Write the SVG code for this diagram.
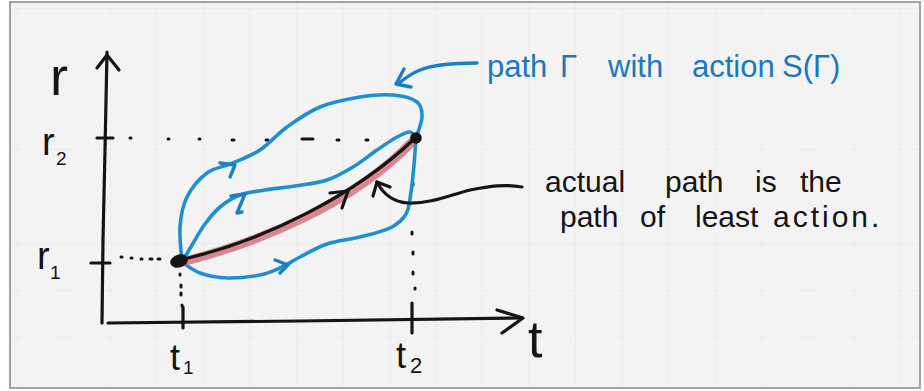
<svg xmlns="http://www.w3.org/2000/svg" width="924" height="391" viewBox="0 0 924 391">
  <defs>
    <pattern id="grid" x="17" y="8" width="46.5" height="47" patternUnits="userSpaceOnUse">
      <path d="M0,0 H46.5 M0,0 V47" fill="none" stroke="#e7e7e7" stroke-width="1"/>
    </pattern>
    <style>
      .ink { fill: none; stroke: #141414; stroke-width: 3.2; stroke-linecap: round; stroke-linejoin: round; }
      .blue { fill: none; stroke: #1e8fd0; stroke-width: 3.6; stroke-linecap: round; stroke-linejoin: round; }
      .bluehead { fill: none; stroke: #1a7fc4; stroke-width: 3.4; stroke-linecap: round; stroke-linejoin: round; }
      .dot { fill: none; stroke: #141414; stroke-width: 3; stroke-linecap: round; }
      .hand { font-family: "Liberation Sans", "DejaVu Sans", sans-serif; fill: #141414; }
      .bluetext { font-family: "Liberation Sans", "DejaVu Sans", sans-serif; fill: #1a78bd; }
    </style>
  </defs>

  <rect x="0" y="0" width="924" height="391" fill="#ffffff"/>
  <rect x="10" y="2" width="910" height="386" fill="#f3f3f3" stroke="#a3a3a3" stroke-width="2"/>
  <rect x="11" y="3" width="908" height="384" fill="url(#grid)"/>

  <!-- axes -->
  <g id="axes">
    <path class="ink" d="M107,52 L105,150 L103,240 L102,323"/>
    <polyline class="ink" points="97,68 107,55 119,70"/>
    <path class="ink" d="M108,323 L300,321 L522,318"/>
    <polyline class="ink" points="497,310 523,318 502,333"/>
    <line class="ink" x1="97" y1="138" x2="113" y2="138"/>
    <line class="ink" x1="91" y1="263" x2="110" y2="263"/>
    <line class="ink" x1="183" y1="307" x2="183" y2="328"/>
    <line class="ink" x1="412" y1="303" x2="412" y2="333"/>
  </g>

  <!-- guide dots -->
  <g id="guides" class="dot">
    <path d="M130,138 h1 M168,139 h1 M199,139 h1 M232,140 h2 M266,140 h2 M302,139 h11 M337,140 h2 M366,140 h2"/>
    <path d="M121,257 h1 M131,258 h1 M141,259 h1 M150,259 h2 M158,259 h2"/>
    <path d="M180,274 v1 M181,285 v2 M181,293 v2 M182,305 v1"/>
    <path d="M413,183 v2 M412,232 v2 M413,252 v2 M413,272 v2 M415,288 v1"/>
  </g>

  <!-- connectors / paths -->
  <g id="connectors">
    <!-- upper varied path -->
    <path class="blue" d="M182,262 C181.7,256.2 179.2,237.8 180,227 C180.8,216.2 182.5,206 187,197 C191.5,188 199.3,178.7 207,173 C214.7,167.3 224.2,166.8 233,163 C241.8,159.2 251,156 260,150 C269,144 277,134.2 287,127 C297,119.8 307.8,112 320,107 C332.2,102 347.8,99 360,97 C372.2,95 383.5,94.2 393,95 C402.5,95.8 412.2,98.3 417,102 C421.8,105.7 422.2,111 422,117 C421.8,123 417,134.5 416,138"/>
    <!-- lower varied path -->
    <path class="blue" d="M182,262 C185,263.8 192.5,270.3 200,273 C207.5,275.7 217,277.7 227,278 C237,278.3 250.8,276.8 260,275 C269.2,273.2 275.3,270 282,267 C288.7,264 292.5,260.8 300,257 C307.5,253.2 317,247.3 327,244 C337,240.7 349.5,239.7 360,237 C370.5,234.3 382.3,231.8 390,228 C397.7,224.2 402.5,220 406,214 C409.5,208 409.7,200.2 411,192 C412.3,183.8 413.2,174 414,165 C414.8,156 415.7,142.5 416,138"/>
    <!-- middle varied path -->
    <path class="blue" d="M182,262 C183.7,259.2 188.2,251.3 192,245 C195.8,238.7 200.3,230.3 205,224 C209.7,217.7 214.2,211.8 220,207 C225.8,202.2 232.5,197.8 240,195 C247.5,192.2 255.8,191.5 265,190 C274.2,188.5 284.7,187.7 295,186 C305.3,184.3 317.3,183.2 327,180 C336.7,176.8 344.7,172 353,167 C361.3,162 369.7,155 377,150 C384.3,145 391.5,140 397,137 C402.5,134 406.8,131.8 410,132 C413.2,132.2 415,137 416,138"/>
    <!-- blue arrowheads -->
    <polyline class="bluehead" points="220,163 235,165 230,177"/>
    <polyline class="bluehead" points="231,196 245,194 237,213 242,212"/>
    <polyline class="bluehead" points="275,260 288,265 280,273"/>

    <!-- actual path: red highlight and black ink -->
    <path d="M186,261 C262,241 352,204 412,142" fill="none" stroke="#d4606f" stroke-opacity="0.75" stroke-width="9" stroke-linecap="round"/>
    <path class="ink" d="M188,258 C265,240 355,195 413,140"/>
    <polyline class="ink" points="330,193 348,191 342,208"/>

    <!-- pointer from annotation -->
    <path class="ink" stroke-width="2.6" d="M522,187 C505,184 490,186 470,190 C450,195 430,204 408,203 C392,202 382,192 377,182"/>
    <polyline class="ink" stroke-width="2.6" points="373,196 377,182 390,187"/>

    <!-- blue callout -->
    <path class="bluehead" d="M477,63 C455,63 435,64 420,70 C410,74 404,79 398,84"/>
    <polyline class="bluehead" points="404,69 396,84 411,87"/>
  </g>

  <!-- endpoints -->
  <g id="start-point">
    <ellipse cx="179" cy="261" rx="9" ry="6.5" transform="rotate(-20 179 261)" fill="#141414"/>
  </g>
  <g id="end-point">
    <circle cx="416" cy="138" r="5.8" fill="#141414"/>
  </g>

  <!-- axis labels -->
  <g id="label-r">
    <text class="hand" x="50" y="95" font-size="54">r</text>
  </g>
  <g id="label-r2">
    <text class="hand" x="42" y="155" font-size="38">r</text>
    <text class="hand" x="56" y="165" font-size="19">2</text>
  </g>
  <g id="label-r1">
    <text class="hand" x="37" y="269" font-size="38">r</text>
    <text class="hand" x="50" y="279" font-size="19">1</text>
  </g>
  <g id="label-t1">
    <text class="hand" x="170" y="370" font-size="36">t</text>
    <text class="hand" x="183" y="374" font-size="19">1</text>
  </g>
  <g id="label-t2">
    <text class="hand" x="396" y="368" font-size="36">t</text>
    <text class="hand" x="410" y="373" font-size="22">2</text>
  </g>
  <g id="label-t">
    <text class="hand" x="528" y="357" font-size="52">t</text>
  </g>

  <!-- annotations -->
  <g id="note-path">
    <text class="bluetext" y="77" font-size="31"><tspan x="487">path</tspan><tspan x="560">Γ</tspan><tspan x="608">with</tspan><tspan x="692">action</tspan><tspan x="782">S(Γ)</tspan></text>
  </g>
  <g id="note-actual">
    <text class="hand" y="192" font-size="30"><tspan x="545">actual</tspan><tspan x="665">path</tspan><tspan x="755">is</tspan><tspan x="800">the</tspan></text>
    <text class="hand" y="227" font-size="30"><tspan x="560">path</tspan><tspan x="640">of</tspan><tspan x="695">least</tspan><tspan x="773" letter-spacing="3">action.</tspan></text>
  </g>
</svg>
